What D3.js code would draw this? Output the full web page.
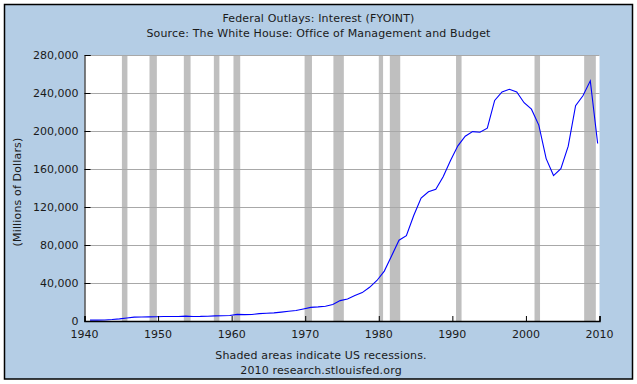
<!DOCTYPE html>
<html>
<head>
<meta charset="utf-8">
<script src="https://cdn.jsdelivr.net/npm/d3@7"></script>
<style>
    html, body { margin: 0; padding: 0; background: #fff; }
    svg text { font-family: "DejaVu Sans", Verdana, sans-serif; fill: #1a1a1a; }
    svg text.wide { letter-spacing: 0.15px; }
</style>
</head>
<body>
<div id="chart"></div>
<script>
;(function () {

    // fiscal years and net interest outlays, millions of dollars
    var years = [1940, 1941, 1942, 1943, 1944, 1945, 1946, 1947, 1948, 1949,
                 1950, 1951, 1952, 1953, 1954, 1955, 1956, 1957, 1958, 1959,
                 1960, 1961, 1962, 1963, 1964, 1965, 1966, 1967, 1968, 1969,
                 1970, 1971, 1972, 1973, 1974, 1975, 1976, 1977, 1978, 1979,
                 1980, 1981, 1982, 1983, 1984, 1985, 1986, 1987, 1988, 1989,
                 1990, 1991, 1992, 1993, 1994, 1995, 1996, 1997, 1998, 1999,
                 2000, 2001, 2002, 2003, 2004, 2005, 2006, 2007, 2008, 2009];
    var interest = [899, 943, 1052, 1529, 2219, 3112, 4111, 4204, 4341, 4523,
                    4812, 4665, 4701, 5156, 4811, 4850, 5079, 5354, 5604, 5762,
                    6947, 6716, 6889, 7740, 8199, 8591, 9386, 10268, 11090, 12699,
                    14380, 14841, 15478, 17349, 21449, 23244, 26727, 29901, 35458, 42633,
                    52533, 68766, 85032, 89808, 111102, 129478, 136017, 138611, 151803, 168981,
                    184347, 194448, 199344, 198713, 202932, 232134, 241053, 243984, 241118, 229755,
                    222949, 206167, 170949, 153073, 160245, 183986, 226603, 237109, 252757, 186902];

    // NBER recessions, peak month to trough month
    var recessions = [
        ['1945-02', '1945-10'], ['1948-11', '1949-10'], ['1953-07', '1954-05'],
        ['1957-08', '1958-04'], ['1960-04', '1961-02'], ['1969-12', '1970-11'],
        ['1973-11', '1975-03'], ['1980-01', '1980-07'], ['1981-07', '1982-11'],
        ['1990-07', '1991-03'], ['2001-03', '2001-11'], ['2007-12', '2009-06']
    ];

    var xTicks = [1940, 1950, 1960, 1970, 1980, 1990, 2000, 2010];
    var yTicks = [0, 40000, 80000, 120000, 160000, 200000, 240000, 280000];

    var title = 'Federal Outlays: Interest (FYOINT)'
        , subtitle = 'Source: The White House: Office of Management and Budget'
        , yLabel = '(Millions of Dollars)'
        , footer1 = 'Shaded areas indicate US recessions.'
        , footer2 = '2010 research.stlouisfed.org';

    var width = 637
        , height = 384
        , left = 84.5
        , right = 599.5
        , top = 55
        , bottom = 321;

    function monthToYear(s) {
        var p = s.split('-');
        return +p[0] + (+p[1] - 1) / 12;
    }

    var svg = d3.select('#chart').append('svg')
        .attr('width', width)
        .attr('height', height);

    // panel
    svg.append('rect')
        .attr('x', 4.5).attr('y', 4.5)
        .attr('width', 628).attr('height', 374.5)
        .attr('fill', '#b4cde5')
        .attr('stroke', '#000')
        .attr('stroke-width', 1.5);

    var x = d3.scaleLinear().domain([1940, 2010]).range([left, right]);
    var y = d3.scaleLinear().domain([0, 280000]).range([bottom, top]);

    svg.append('rect')
        .attr('x', left).attr('y', top)
        .attr('width', right - left).attr('height', bottom - top)
        .attr('fill', '#fff');

    // recession shading
    svg.selectAll('.recession')
        .data(recessions)
        .enter().append('rect')
        .attr('class', 'recession')
        .attr('x', function(d) { return x(monthToYear(d[0])); })
        .attr('y', top)
        .attr('width', function(d) { return x(monthToYear(d[1]) + 1 / 12) - x(monthToYear(d[0])); })
        .attr('height', bottom - top)
        .attr('fill', '#bfbfbf');

    // grid
    svg.selectAll('.grid')
        .data(yTicks.slice(1))
        .enter().append('line')
        .attr('class', 'grid')
        .attr('x1', left).attr('x2', right)
        .attr('y1', function(d) { return Math.round(y(d)) + 0.5; })
        .attr('y2', function(d) { return Math.round(y(d)) + 0.5; })
        .attr('stroke', '#a8a8a8')
        .attr('stroke-width', 1);

    // series, observations dated at the end of each fiscal year
    var line = d3.line()
        .x(function(d, i) { return x(years[i] + 0.75); })
        .y(function(d) { return y(d); });

    svg.append('path')
        .datum(interest)
        .attr('d', line)
        .attr('fill', 'none')
        .attr('stroke', '#0000ff')
        .attr('stroke-width', 1.1);

    // axes
    var yAxis = svg.append('g')
        .attr('transform', 'translate(' + left + ',0)')
        .call(d3.axisRight(y).tickValues(yTicks).tickSize(6).tickFormat(''));
    yAxis.select('.domain').attr('stroke', '#000');
    yAxis.selectAll('.tick line').attr('stroke', '#000');

    var xAxis = svg.append('g')
        .attr('transform', 'translate(0,' + bottom + ')')
        .call(d3.axisTop(x).tickValues(xTicks).tickSize(5).tickFormat(''));
    xAxis.select('.domain').attr('stroke', '#000').attr('stroke-width', 1.5);
    xAxis.selectAll('.tick line').attr('stroke', '#000');

    svg.selectAll('.ylab')
        .data(yTicks)
        .enter().append('text')
        .attr('class', 'ylab')
        .attr('x', left - 6)
        .attr('y', function(d) { return y(d) + 4; })
        .attr('text-anchor', 'end')
        .style('font-size', '11px')
        .text(d3.format(','));

    svg.selectAll('.xlab')
        .data(xTicks)
        .enter().append('text')
        .attr('class', 'xlab')
        .attr('x', function(d) { return x(d); })
        .attr('y', 338)
        .attr('text-anchor', 'middle')
        .style('font-size', '11px')
        .text(function(d) { return d; });

    // texts
    svg.append('text')
        .attr('class', 'wide')
        .attr('x', width / 2).attr('y', 22)
        .attr('text-anchor', 'middle')
        .style('font-size', '11px')
        .text(title);
    svg.append('text')
        .attr('class', 'wide')
        .attr('x', width / 2).attr('y', 37)
        .attr('text-anchor', 'middle')
        .style('font-size', '11px')
        .text(subtitle);

    svg.append('text')
        .attr('class', 'wide')
        .attr('transform', 'translate(21,' + 192 + ') rotate(-90)')
        .attr('text-anchor', 'middle')
        .style('font-size', '11px')
        .text(yLabel);

    svg.append('text')
        .attr('class', 'wide')
        .attr('x', 321).attr('y', 359)
        .attr('text-anchor', 'middle')
        .style('font-size', '11px')
        .text(footer1);
    svg.append('text')
        .attr('class', 'wide')
        .attr('x', 321).attr('y', 374)
        .attr('text-anchor', 'middle')
        .style('font-size', '11px')
        .text(footer2);

}());
</script>
</body>
</html>
